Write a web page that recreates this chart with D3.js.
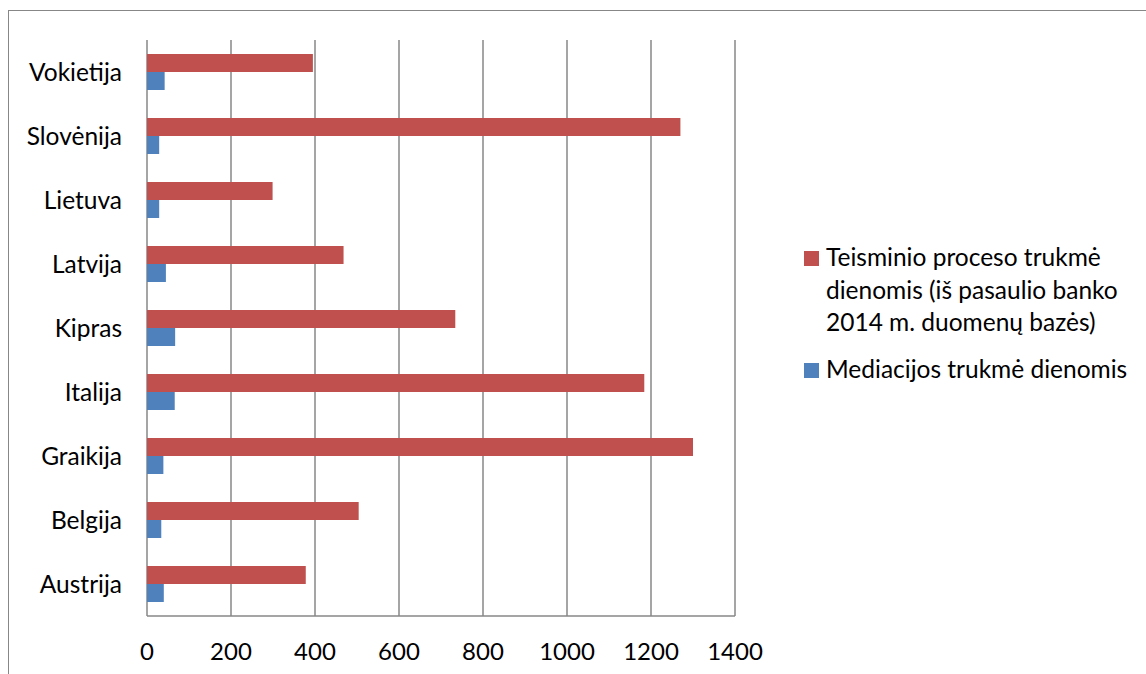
<!DOCTYPE html>
<html>
<head>
<meta charset="utf-8">
<script src="https://cdn.jsdelivr.net/npm/d3@7"></script>
<style>
  body { margin: 0; background: #fff; }
  svg text { font-family: Lato, "Open Sans", sans-serif; fill: #000; }
</style>
</head>
<body>
<svg id="chart" width="1146" height="674"></svg>
<script>
// data, Excel order (bottom to top)
var countries = ["Austrija", "Belgija", "Graikija", "Italija", "Kipras", "Latvija", "Lietuva", "Slovėnija", "Vokietija"];
var courtDays = [378, 504, 1300, 1184, 734, 468, 299, 1270, 395];
var mediationDays = [40, 34, 39, 66, 67, 45, 29, 29, 42];
var seriesNames = ["Teisminio proceso trukmė dienomis (iš pasaulio banko 2014 m. duomenų bazės)", "Mediacijos trukmė dienomis"];
var seriesColors = ["#C0504D", "#4F81BD"];
var xTicks = [0, 200, 400, 600, 800, 1000, 1200, 1400];

var svg = d3.select("#chart");
var gridColor = "#878787";

// outer chart frame (right and bottom are off the picture)
svg.append("rect")
    .attr("x", 8.5).attr("y", 10.5)
    .attr("width", 1200).attr("height", 700)
    .attr("fill", "none")
    .attr("stroke", gridColor)
    .attr("stroke-width", 1);

var x = d3.scaleLinear().domain([0, 1400]).range([147, 735]);
var y = d3.scaleBand()
    .domain(countries.slice().reverse())
    .range([40, 616])
    .paddingInner(0.4375)
    .paddingOuter(0.21875);
var ySub = d3.scaleBand().domain([0, 1]).range([0, y.bandwidth()]);

// gridlines
svg.append("g").selectAll("line")
    .data(xTicks)
    .enter().append("line")
    .attr("x1", function (d) { return x(d); })
    .attr("x2", function (d) { return x(d); })
    .attr("y1", 40).attr("y2", 616)
    .attr("stroke", gridColor)
    .attr("stroke-width", 1.5);

// bottom axis line
svg.append("line")
    .attr("x1", x(0)).attr("x2", x(1400))
    .attr("y1", 616).attr("y2", 616)
    .attr("stroke", gridColor)
    .attr("stroke-width", 1.5);

var rows = countries.map(function (c, i) {
    return { name: c, values: [courtDays[i], mediationDays[i]] };
});

var groups = svg.append("g").selectAll("g")
    .data(rows)
    .enter().append("g")
    .attr("transform", function (d) { return "translate(0," + y(d.name) + ")"; });

groups.selectAll("rect")
    .data(function (d) { return d.values; })
    .enter().append("rect")
    .attr("x", x(0))
    .attr("y", function (d, i) { return ySub(i); })
    .attr("width", function (d) { return x(d) - x(0); })
    .attr("height", ySub.bandwidth())
    .attr("fill", function (d, i) { return seriesColors[i]; });

// category labels
svg.append("g").selectAll("text")
    .data(countries)
    .enter().append("text")
    .attr("x", 122)
    .attr("y", function (d) { return y(d) + y.bandwidth() / 2 + 9; })
    .attr("text-anchor", "end")
    .style("font-size", "24.5px")
    .text(function (d) { return d; });

// tick labels
svg.append("g").selectAll("text")
    .data(xTicks)
    .enter().append("text")
    .attr("x", function (d) { return x(d); })
    .attr("y", 660)
    .attr("text-anchor", "middle")
    .style("font-size", "24px")
    .text(function (d) { return d; });

// legend
var legendLines = [
    ["Teisminio proceso trukmė", "dienomis (iš pasaulio banko", "2014 m. duomenų bazės)"],
    ["Mediacijos trukmė dienomis"]
];
var legendTop = [251, 363];
var legend = svg.append("g").selectAll("g")
    .data(seriesNames)
    .enter().append("g");
legend.append("rect")
    .attr("x", 804)
    .attr("y", function (d, i) { return legendTop[i]; })
    .attr("width", 15).attr("height", 15)
    .attr("fill", function (d, i) { return seriesColors[i]; });
legend.each(function (d, i) {
    var t = d3.select(this).append("text")
        .style("font-size", "24.5px");
    legendLines[i].forEach(function (line, j) {
        t.append("tspan")
            .attr("x", 826)
            .attr("y", legendTop[i] + 15 + j * 32.5)
            .text(line);
    });
});
</script>
</body>
</html>
